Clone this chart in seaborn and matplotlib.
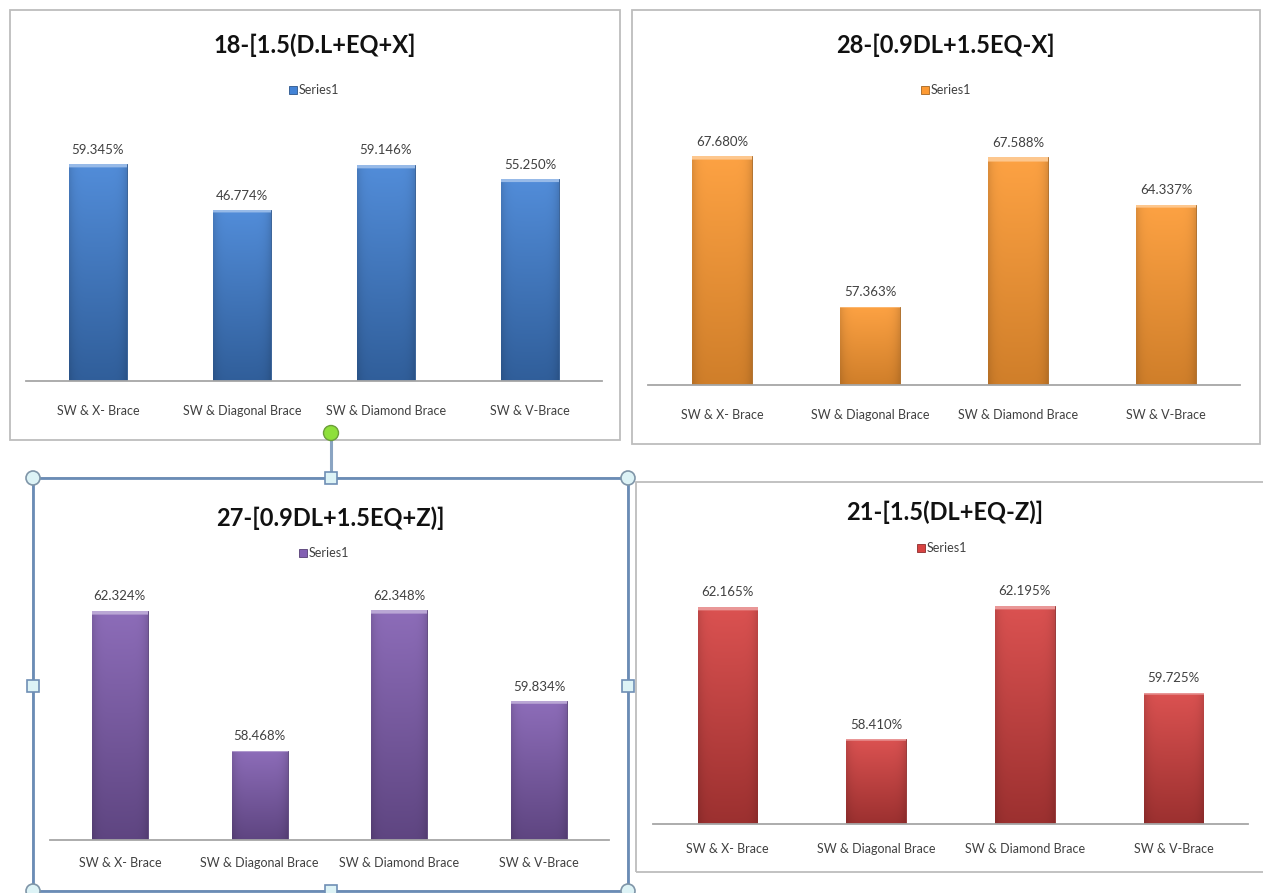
import matplotlib
matplotlib.use("Agg")
import matplotlib.pyplot as plt
import matplotlib.patches as mpatches
from matplotlib.lines import Line2D
from matplotlib.colors import to_rgb
import numpy as np
import pandas as pd
import seaborn as sns

# ---- data ----
categories = ["SW & X- Brace", "SW & Diagonal Brace", "SW & Diamond Brace", "SW & V-Brace"]
titles = ["18-[1.5(D.L+EQ+X]", "28-[0.9DL+1.5EQ-X]", "27-[0.9DL+1.5EQ+Z)]", "21-[1.5(DL+EQ-Z)]"]
values_18 = [59.345, 46.774, 59.146, 55.250]
values_28 = [67.680, 57.363, 67.588, 64.337]
values_27 = [62.324, 58.468, 62.348, 59.834]
values_21 = [62.165, 58.410, 62.195, 59.725]
series_name = "Series1"

W, H = 1263, 893
sns.set_theme(style="white")
plt.rcParams["font.family"] = ["Lato", "DejaVu Sans"]

fig = plt.figure(figsize=(W / 100, H / 100), dpi=100)
fig.patch.set_facecolor("white")


def fx(x):
    return x / W


def fy(y):
    return 1 - y / H


def shade(c, f):
    r = np.array(to_rgb(c))
    if f >= 0:
        return tuple(r + (1 - r) * f)
    return tuple(r * (1 + f))


def gradient_bars(ax, color, dark=-0.28):
    # Excel 2007 style: light rim on top, darker towards the base
    for p in ax.patches:
        x0, y0 = p.get_x(), p.get_y()
        w, h = p.get_width(), p.get_height()
        if h == 0:
            continue
        n = 200
        t = np.linspace(0, 1, n)[:, None]          # 0 top -> 1 bottom
        s = np.linspace(-1, 1, 40)[None, :]
        top = np.array(shade(color, 0.08))
        bot = np.array(shade(color, dark))
        img = top[None, None, :] * (1 - t[..., None]) + bot[None, None, :] * t[..., None]
        edge = 1 - 0.12 * (np.abs(s) ** 6)
        img = img * edge[..., None]
        cap = int(n * 0.018) + 1
        img[:cap] = np.array(shade(color, 0.45))[None, None, :]
        img = np.clip(img, 0, 1)
        ylo, yhi = ax.get_ylim()
        im = ax.imshow(img, extent=(x0, x0 + w, max(y0, ylo), y0 + h), aspect="auto",
                       origin="upper", zorder=p.get_zorder() + 0.1, interpolation="bilinear")
        im.set_clip_path(p)
        p.set_edgecolor(shade(color, -0.35))
        p.set_linewidth(0.6)


def draw_panel(values, title, color, ax_box, ylim, title_xy, legend_xy, frame,
               dark=-0.28, pad=17):
    x0, ytop, x1, ybase = ax_box
    fl, ft, fr, fb = frame
    fig.patches.append(mpatches.Rectangle((fx(fl), fy(fb)), fx(fr - fl), (fb - ft) / H,
                                          transform=fig.transFigure, fill=False,
                                          edgecolor="#BDBDBD", linewidth=1.3, zorder=0))
    ax = fig.add_axes([fx(x0), fy(ybase), fx(x1 - x0), (ybase - ytop) / H])
    ax.set_facecolor("none")
    df = pd.DataFrame({"case": categories, "ratio": values})
    sns.barplot(data=df, x="case", y="ratio", color=color, width=0.4,
                saturation=1, ax=ax, zorder=2)
    ax.set_ylim(*ylim)
    ax.set_xlim(-0.5, len(categories) - 0.5)
    gradient_bars(ax, color, dark)
    ax.set_ylim(*ylim)
    ax.set_xlim(-0.5, len(categories) - 0.5)
    for i, v in enumerate(values):
        ax.annotate(f"{v:.3f}%", (i, v), xytext=(0, 6), textcoords="offset points",
                    ha="center", va="bottom", fontsize=9.5, color="#404040")
    ax.set_xlabel("")
    ax.set_ylabel("")
    ax.set_yticks([])
    ax.tick_params(axis="x", length=0, pad=pad, labelsize=9, labelcolor="#404040")
    for s in ["top", "left", "right"]:
        ax.spines[s].set_visible(False)
    ax.spines["bottom"].set_color("#A6A6A6")
    ax.spines["bottom"].set_linewidth(1.3)
    fig.text(fx(title_xy[0]), fy(title_xy[1]), title, ha="center", va="center",
             fontsize=17, fontweight="bold", color="#111111")
    lx, ly = legend_xy
    fig.patches.append(mpatches.Rectangle((fx(lx - 31), fy(ly + 4)), fx(8), 8 / H,
                                          transform=fig.transFigure, facecolor=color,
                                          edgecolor=shade(color, -0.35), linewidth=0.6))
    fig.text(fx(lx - 21), fy(ly), series_name, ha="left", va="center",
             fontsize=9, color="#404040")
    return ax


draw_panel(values_18, titles[0], "#4383D6", (26, 125, 602, 381), (0, 70),
           (315, 45), (320, 90), (10, 10, 620, 440))
draw_panel(values_28, titles[1], "#FD9A33", (648, 122, 1240, 385), (52, 70),
           (945, 45), (952, 90), (632, 10, 1260, 444), dark=-0.18)
draw_panel(values_21, titles[3], "#D84342", (653, 542, 1248, 824), (56, 64),
           (945, 512), (948, 548), (636, 482, 1275, 872), pad=14)
draw_panel(values_27, titles[2], "#8360B3", (50, 550, 609, 840), (56, 64),
           (330, 518), (330, 553), (33, 478, 628, 891), pad=12.5)

# selection handles around the bottom-left chart
sel = "#6A8CB6"
L, T, R, B = 33, 478, 628, 891
fig.add_artist(Line2D([fx(331), fx(331)], [fy(433), fy(T)], color="#8AA4C2", lw=2.2))
fig.patches.append(mpatches.Rectangle((fx(L), fy(B)), fx(R - L), (B - T) / H,
                                      transform=fig.transFigure, fill=False,
                                      edgecolor=sel, linewidth=2.0, zorder=5))
for cx, cy in [(L, T), (R, T), (L, B), (R, B)]:
    fig.patches.append(mpatches.Ellipse((fx(cx), fy(cy)), fx(14), 14 / H,
                                        transform=fig.transFigure, facecolor="#DDF3F6",
                                        edgecolor="#7F95A8", linewidth=1.2, zorder=6))
for cx, cy in [(331, T), (L, 686), (R, 686), (331, B)]:
    fig.patches.append(mpatches.Rectangle((fx(cx - 6), fy(cy + 6)), fx(12), 12 / H,
                                          transform=fig.transFigure, facecolor="#DDF3F6",
                                          edgecolor="#6F8FB5", linewidth=1.2, zorder=6))
fig.patches.append(mpatches.Ellipse((fx(331), fy(433)), fx(15), 15 / H,
                                    transform=fig.transFigure, facecolor="#8EE03A",
                                    edgecolor="#6C9E3A", linewidth=1.0, zorder=6))

fig.savefig("out.png", dpi=100)
